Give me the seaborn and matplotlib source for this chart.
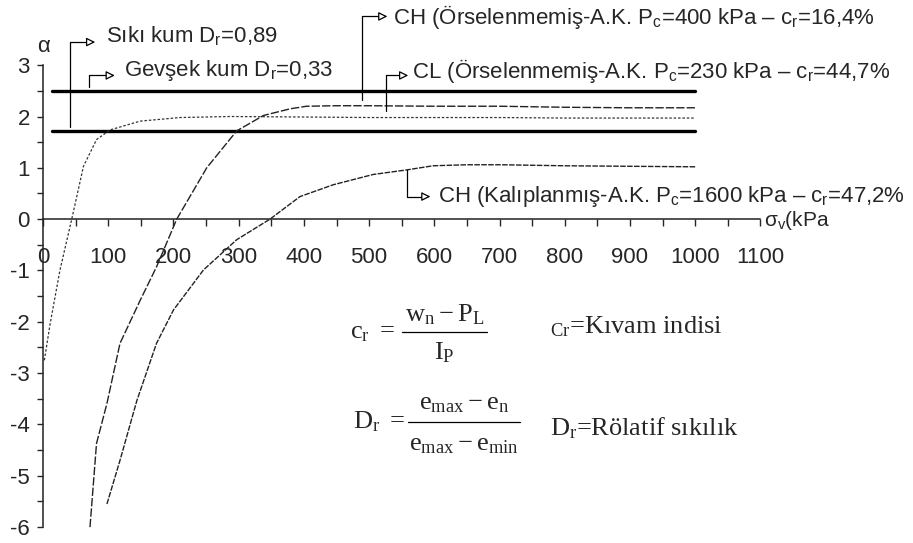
import matplotlib
matplotlib.use("Agg")
import matplotlib.pyplot as plt
import numpy as np
import seaborn as sns

# curve data (sigma_v in kPa, alpha)
cl_230_sigma = [2, 11, 26, 44, 62, 82, 103, 149, 210, 287, 400, 500, 600, 700, 800, 900, 1000]
cl_230_alpha = [-2.75, -2.03, -0.99, 0.0, 1.03, 1.55, 1.74, 1.91, 1.98, 2.0, 1.99, 1.98, 1.98, 1.98, 1.97, 1.97, 1.97]

ch_400_sigma = [72, 82, 98, 118, 149, 174, 205, 251, 297, 338, 379, 404, 450, 500, 600, 700, 800, 900, 1000]
ch_400_alpha = [-6.0, -4.37, -3.59, -2.42, -1.58, -0.93, 0.0, 1.0, 1.72, 2.02, 2.15, 2.2, 2.21, 2.21, 2.2, 2.2, 2.18, 2.17, 2.17]

ch_1600_sigma = [98, 118, 144, 174, 200, 246, 297, 348, 394, 445, 506, 558, 598, 650, 700, 800, 900, 1000]
ch_1600_alpha = [-5.55, -4.70, -3.53, -2.42, -1.77, -0.99, -0.40, 0.0, 0.44, 0.67, 0.87, 0.96, 1.04, 1.06, 1.06, 1.04, 1.03, 1.02]

# sands: constant alpha
sand_sigma = [13, 1000]
gevsek_alpha = 2.5
siki_alpha = 1.72

x_ticks = list(range(0, 1101, 100))
y_ticks = list(range(-6, 4))

sns.set_style("white")
plt.rcParams["font.family"] = ["Liberation Sans", "DejaVu Sans"]
plt.rcParams["axes.unicode_minus"] = False
plt.rcParams["mathtext.fontset"] = "custom"
plt.rcParams["mathtext.rm"] = "Liberation Serif"
plt.rcParams["mathtext.it"] = "Liberation Serif"
plt.rcParams["mathtext.sf"] = "Liberation Sans"

fig = plt.figure(figsize=(9.13, 5.43), dpi=100)
ax = fig.add_axes([0, 0, 1, 1])
ax.set_xlim(-66, 1334)
ax.set_ylim(-6.31, 4.27)

# thick sand lines
sns.lineplot(x=sand_sigma, y=[gevsek_alpha] * 2, ax=ax, color="black", lw=2.4)
sns.lineplot(x=sand_sigma, y=[siki_alpha] * 2, ax=ax, color="black", lw=2.4)

# clay curves
sns.lineplot(x=cl_230_sigma, y=cl_230_alpha, ax=ax, sort=False, color="#333333",
             lw=0.9, linestyle=(0, (2, 1.5)))
sns.lineplot(x=ch_400_sigma, y=ch_400_alpha, ax=ax, sort=False, color="#222222",
             lw=1.0, linestyle=(0, (6, 1.5)))
sns.lineplot(x=ch_1600_sigma, y=ch_1600_alpha, ax=ax, sort=False, color="#222222",
             lw=1.0, linestyle=(0, (4, 1)))

# axes through origin
for side in ["top", "right"]:
    ax.spines[side].set_visible(False)
ax.spines["left"].set_position(("data", 0))
ax.spines["bottom"].set_position(("data", 0))
ax.spines["left"].set_bounds(-6, 3)
ax.spines["bottom"].set_bounds(0, 1100)
for side in ["left", "bottom"]:
    ax.spines[side].set_linewidth(1.1)
    ax.spines[side].set_color("#222222")

ax.set_xticks(x_ticks)
ax.set_xticklabels([str(v) for v in x_ticks])
ax.set_xticks(np.arange(50, 1100, 100), minor=True)
ax.set_yticks(y_ticks)
ax.set_yticklabels([str(v) for v in y_ticks])
ax.set_yticks(np.arange(-5.5, 3, 1), minor=True)
ax.tick_params(axis="x", which="both", direction="out", length=5, width=1, pad=15,
               labelsize=16, bottom=True)
ax.tick_params(axis="y", which="both", direction="out", length=4.5, width=1, pad=5,
               labelsize=16, left=True)

ax.text(0, 3.37, "α", ha="center", va="center", fontsize=16)
ax.text(1105, -0.03, r"σ$_\mathsf{v}$(kPa", ha="left", va="center", fontsize=15)


def leader(x0, y0, y1, x_tip, text_x, text_y, label):
    ax.plot([x0, x0, x_tip - 10], [y0, y1, y1], color="black", lw=0.9)
    ax.annotate("", xy=(x_tip, y1), xytext=(x_tip - 12, y1),
                arrowprops=dict(arrowstyle="-|>", fc="white", ec="black",
                                lw=0.9, mutation_scale=13, shrinkA=0, shrinkB=0))
    ax.text(text_x, text_y, label, ha="left", va="center", fontsize=16)


leader(41.4, 1.80, 3.45, 80, 97, 3.58, r"Sıkı kum D$_\mathsf{r}$=0,89")
leader(70.6, 2.58, 2.80, 110, 124, 2.90, r"Gevşek kum D$_\mathsf{r}$=0,33")
leader(489, 2.33, 3.95, 528, 537, 3.94,
       r"CH (Örselenmemiş-A.K. P$_\mathsf{c}$=400 kPa – c$_\mathsf{r}$=16,4%")
leader(526, 2.10, 2.80, 560, 566, 2.88,
       r"CL (Örselenmemiş-A.K. P$_\mathsf{c}$=230 kPa – c$_\mathsf{r}$=44,7%")
leader(558, 0.96, 0.44, 594, 606, 0.44,
       r"CH (Kalıplanmış-A.K. P$_\mathsf{c}$=1600 kPa – c$_\mathsf{r}$=47,2%")


def fraction(x_lhs, y_bar, lhs, x0, x1, num, den, dy_num, dy_den):
    ax.text(x_lhs, y_bar, lhs, ha="left", va="center", fontsize=19)
    ax.plot([x0, x1], [y_bar, y_bar], color="black", lw=0.9)
    xc = (x0 + x1) / 2
    ax.text(xc, y_bar + dy_num, num, ha="center", va="center", fontsize=19)
    ax.text(xc, y_bar - dy_den, den, ha="center", va="center", fontsize=19)


fraction(471, -2.2, r"$\mathrm{c_r\ =}$", 551, 681,
         r"$\mathrm{w_n - P_L}$", r"$\mathrm{I_P}$", 0.33, 0.40)
fraction(475, -3.95, r"$\mathrm{D_r\ =}$", 560, 732,
         r"$\mathrm{e_{max} - e_n}$", r"$\mathrm{e_{max} - e_{min}}$", 0.36, 0.44)

ax.text(777, -2.1, r"${}_\mathrm{Cr}$=Kıvam indisi", ha="left", va="center",
        fontsize=19, family="Liberation Serif")
ax.text(777, -4.08, r"D$_\mathrm{r}$=Rölatif sıkılık", ha="left", va="center",
        fontsize=19, family="Liberation Serif")

fig.savefig("out.png", dpi=100)
